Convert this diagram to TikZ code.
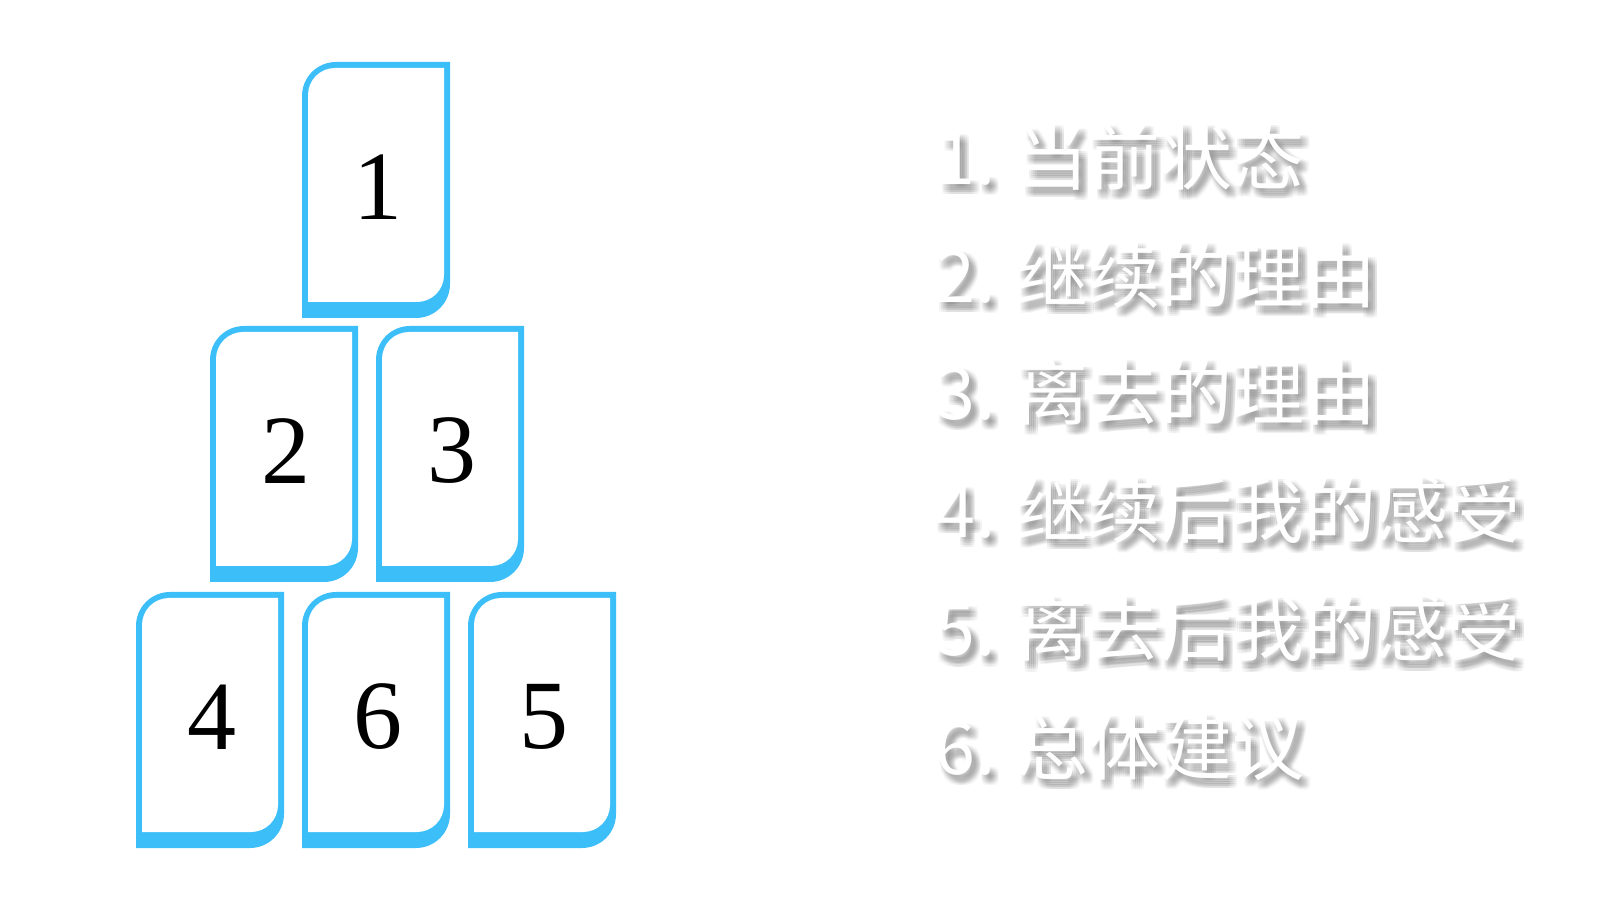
\documentclass[tikz,border=0pt]{standalone}
\usepackage{fontspec}
\newfontfamily\cjk{Noto Sans CJK SC}
\newfontfamily\digitfont{Liberation Serif}
\definecolor{cardblue}{RGB}{60,190,248}
\definecolor{shadowgray}{RGB}{110,110,110}
\tikzset{
  card/.pic={
    \fill[cardblue] (0,-256) -- (0,-34) arc[start angle=180,end angle=90,radius=34]
      -- (148,0) -- (148,-222) arc[start angle=0,end angle=-90,radius=34] -- cycle;
    \fill[white] (6,-240) -- (6,-33) arc[start angle=180,end angle=90,radius=27]
      -- (142,-6) -- (142,-213) arc[start angle=0,end angle=-90,radius=27] -- cycle;
  },
  digit/.style={inner sep=0pt, font=\digitfont\fontsize{49}{60}\selectfont, text=black},
  item/.style={anchor=base west, inner sep=0pt, font=\cjk\fontsize{36}{40}\selectfont, text=white},
  itemshadow/.style={item, text=shadowgray, text opacity=0.045},
}
\newcommand{\listline}[3]{%
  \foreach \dx in {1,3,5,7,9}{\foreach \dy in {2,4,6,8,10}{%
    \node[itemshadow] (#1-\dx-\dy) at (935+\dx,#2-\dy) {#3};}}%
  \node[item] (#1) at (935,#2) {#3};}
\begin{document}
\begin{tikzpicture}[x=0.5pt,y=0.5pt]
\fill[white] (0,0) rectangle (1600,900);
\useasboundingbox (0,0) rectangle (1600,900);
% cards
\pic at (302,838) {card};
\pic at (210,574) {card};
\pic at (376,574) {card};
\pic at (136,308) {card};
\pic at (302,308) {card};
\pic at (468,308) {card};
\node[digit] (c1) at (378,713) {1};
\node[digit] (c2) at (286,449) {2};
\node[digit] (c3) at (452,449) {3};
\node[digit] (c4) at (212,183) {4};
\node[digit] (c6) at (378,183) {6};
\node[digit] (c5) at (544,183) {5};
% list
\listline{t1}{715}{1. 当前状态}
\listline{t2}{597}{2. 继续的理由}
\listline{t3}{480}{3. 离去的理由}
\listline{t4}{362}{4. 继续后我的感受}
\listline{t5}{244}{5. 离去后我的感受}
\listline{t6}{126}{6. 总体建议}
\end{tikzpicture}
\end{document}
